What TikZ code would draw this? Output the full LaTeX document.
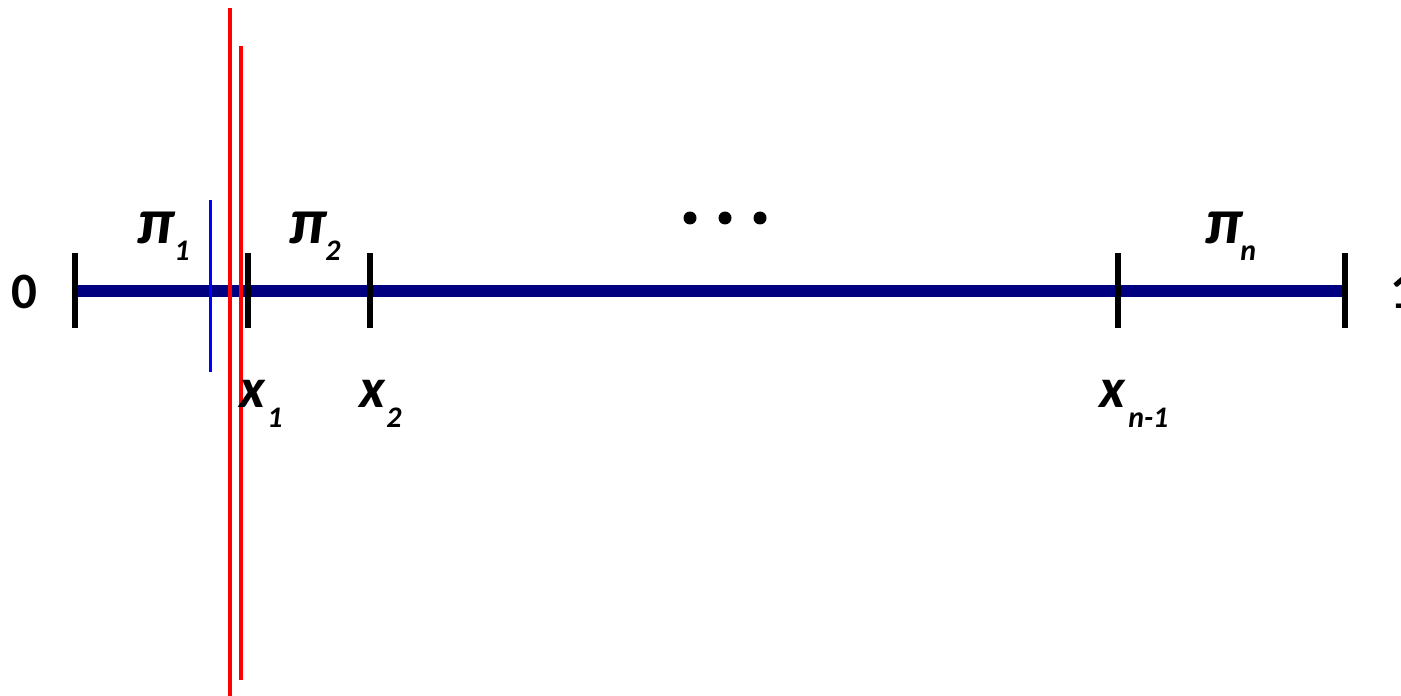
\documentclass[tikz,border=0pt]{standalone}
\usepackage{fontspec}
\setmainfont{Carlito}
\definecolor{axisblue}{HTML}{000080}
\definecolor{markred}{HTML}{FF0000}
\definecolor{markblue}{HTML}{0000FF}
\begin{document}
\begin{tikzpicture}[x=0.02cm,y=-0.02cm,
  tick/.style={line width=6*0.569pt,black},
  mainlbl/.style={inner sep=0pt,anchor=base west,font=\fontsize{32}{32}\selectfont\bfseries\itshape},
  pilbl/.style={inner sep=0pt,anchor=base west,font=\fontsize{37}{37}\selectfont\bfseries\itshape},
  sublbl/.style={inner sep=0pt,anchor=base west,font=\fontsize{17}{17}\selectfont\bfseries\itshape},
  endlbl/.style={inner sep=0pt,anchor=base west,font=\fontsize{29}{29}\selectfont\bfseries}]
\useasboundingbox (0,0) rectangle (1401,696);
% axis
\coordinate (a0) at (75,291);
\coordinate (a1) at (1345,291);
\draw[axisblue,line width=13*0.569pt] (a0) -- (a1);
% ticks
\foreach \n/\x in {t0/75,t1/248,t2/370,t3/1118,t4/1345}{
  \draw[tick] (\x,253) -- (\x,328);
}
% blue and red lines
\draw[markblue,line width=3*0.569pt] (210,200) -- (210,372);
\draw[markred,line width=3.5*0.569pt] (230,8) -- (230,696);
\draw[markred,line width=3.5*0.569pt] (241,46) -- (241,680);
% end labels
\node[endlbl] (zero) at (11,308) {0};
\node[endlbl] (one) at (1390,308) {1};
% pi labels
\node[pilbl] (p1) at (137,243) {π};
\node[sublbl] (p1s) at (174,260) {1};
\node[pilbl] (p2) at (289,243) {π};
\node[sublbl] (p2s) at (325,260) {2};
\node[pilbl] (pn) at (1205,243) {π};
\node[sublbl] (pns) at (1240,260) {n};
% x labels
\node[mainlbl] (x1) at (239,407) {x};
\node[sublbl] (x1s) at (267,427) {1};
\node[mainlbl] (x2) at (359,407) {x};
\node[sublbl] (x2s) at (386,427) {2};
\node[mainlbl] (xn) at (1099,407) {x};
\node[sublbl] (xns) at (1128,427) {n-1};
% dots
\foreach \x in {690,725,760}{
  \fill[black] (\x,218) circle (6.5);
}
\end{tikzpicture}
\end{document}
